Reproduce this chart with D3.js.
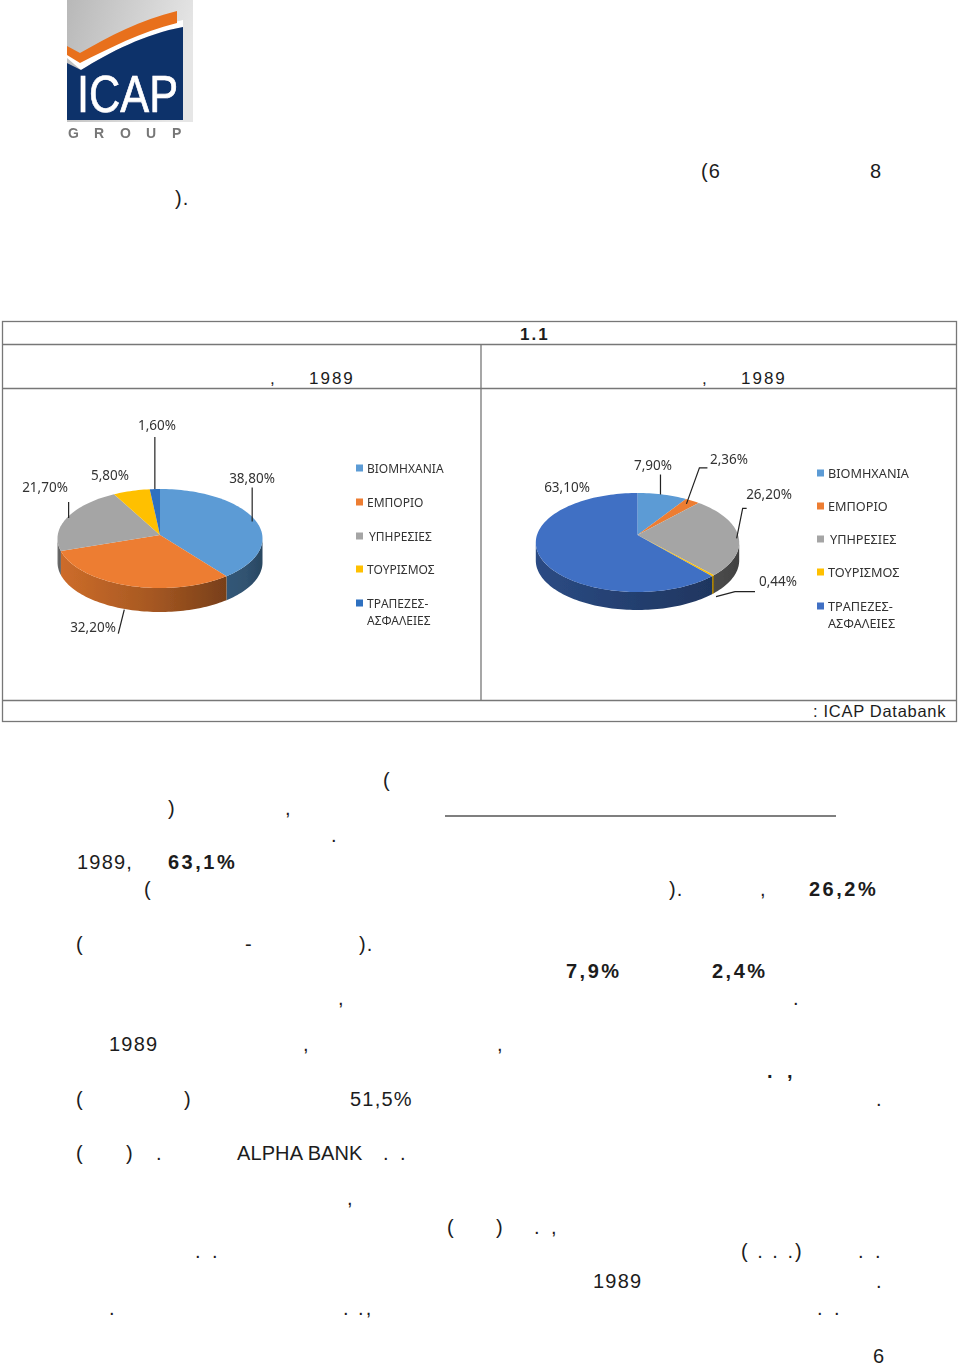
<!DOCTYPE html>
<html>
<head>
<meta charset="utf-8">
<script src="https://cdn.jsdelivr.net/npm/d3@7"></script>
<style>
  html, body { margin: 0; padding: 0; background: #fff; }
  svg { display: block; }
  text { font-family: "Liberation Sans", sans-serif; fill: #1c1c1c; }
  .chart text { font-family: "Noto Sans", sans-serif; fill: #333; }
</style>
</head>
<body>
<div id="page"></div>
<script>
// chart values
var categories = ["ΒΙΟΜΗΧΑΝΙΑ", "ΕΜΠΟΡΙΟ", "ΥΠΗΡΕΣΙΕΣ", "ΤΟΥΡΙΣΜΟΣ", "ΤΡΑΠΕΖΕΣ-ΑΣΦΑΛΕΙΕΣ"];
var leftValues = [38.8, 32.2, 21.7, 5.8, 1.6];
var rightValues = [7.9, 2.36, 26.2, 0.44, 63.1];

var leftColors = ["#5b9bd5", "#ed7d31", "#a5a5a5", "#ffc000", "#2f6fc0"];
var rightColors = ["#5b9bd5", "#ed7d31", "#a5a5a5", "#ffc000", "#3f6fc4"];

// what is left of the page text: [x, baseline, text, bold, letter spacing]
var pageText = [
  [701, 178, "(6"], [870, 178, "8"], [175, 205, ")."],
  [383, 787, "("], [168, 815, ")"], [285, 815, ","], [331, 842, "."],
  [77, 869, "1989,"], [168, 869, "63,1%", true],
  [144, 896, "("], [669, 896, ")."], [760, 896, ","], [809, 896, "26,2%", true],
  [76, 951, "("], [245, 951, "-"], [359, 951, ")."],
  [566, 978, "7,9%", true], [712, 978, "2,4%", true],
  [338, 1005, ","], [793, 1005, "."],
  [109, 1051, "1989"], [303, 1051, ","], [497, 1051, ","],
  [767, 1078, ".", true], [787, 1078, ",", true],
  [76, 1106, "("], [184, 1106, ")"], [350, 1106, "51,5%"], [876, 1106, "."],
  [76, 1160, "("], [126, 1160, ")"], [156, 1160, "."], [237, 1160, "ALPHA BANK", false, 0.1], [383, 1160, ". .", false, 3],
  [347, 1205, ","],
  [447, 1234, "("], [496, 1234, ")"], [534, 1234, ". ,", false, 3],
  [195, 1258, ". .", false, 3], [741, 1258, "( . . .)", false, 2], [858, 1258, ". .", false, 3],
  [593, 1288, "1989"], [876, 1288, "."],
  [109, 1315, "."], [343, 1315, ". .,", false, 2], [817, 1315, ". .", false, 3],
  [873, 1362.5, "6"]
];

var svg = d3.select("#page").append("svg")
  .attr("width", 960)
  .attr("height", 1367);

var defs = svg.append("defs");
defs.append("filter").attr("id", "soft")
  .append("feGaussianBlur").attr("stdDeviation", 0.7);
defs.append("filter").attr("id", "softer")
  .append("feGaussianBlur").attr("stdDeviation", 0.35);

drawLogo();
drawTable();

svg.selectAll(".body")
  .data(pageText)
  .enter()
  .append("text")
    .attr("class", "body")
    .attr("x", d => d[0])
    .attr("y", d => d[1])
    .attr("font-size", 20)
    .attr("letter-spacing", d => d[4] != null ? d[4] : (d[3] ? 2.5 : 1.2))
    .attr("font-weight", d => d[3] ? "bold" : "normal")
    .text(d => d[2]);

svg.append("line")
  .attr("x1", 445).attr("x2", 836).attr("y1", 816).attr("y2", 816)
  .attr("stroke", "#555").attr("stroke-width", 1.4);

drawPie({
  values: leftValues, colors: leftColors, cx: 160, apexY: 535, cy: 538.5, rx: 102.5, ry: 49.5, depth: 24,
  blur: "url(#soft)",
  // side wall shading of each slice: left, middle, right
  sideShade: [[1.6, 1.8, 2.2], [0.4, 1, 1.9], [1, 1.4, 2], [1, 1.4, 2], [1, 1.4, 2]],
  // label centre, then leader elbow points as offsets from the rim
  labels: [
    {x: 252, y: 483, leader: [[-4, 0], [-4, -34]]},
    {x: 93, y: 632, leader: [[-5, 0], [-11, 24]], drop: true},
    {x: 45, y: 492, leader: [[2, 0], [2, -16]]},
    {x: 110, y: 480, leader: null},
    {x: 157, y: 430, leader: [[0, 0], [0, -52]]}
  ],
  legendX: 356, legendY: [468, 502, 536, 569, 603], legendFont: 12, legendGap: 11
});

drawPie({
  values: rightValues, colors: rightColors, cx: 637.5, apexY: 535, cy: 542.5, rx: 101.7, ry: 49.5, depth: 18,
  blur: "url(#softer)",
  sideShade: [[1, 1.4, 2], [1, 1.4, 2], [2.2, 2.4, 2.6], [1, 1.4, 2], [1.1, 1.6, 2]],
  labels: [
    {x: 653, y: 470, leader: [[-2, 0], [-2, -20]]},
    {x: 729, y: 464, leader: [[-6, 3], [7, -33], [15, -33]]},
    {x: 769, y: 499, leader: [[-2, 1], [4, -29], [8, -29]]},
    {x: 778, y: 586, leader: [[3, 3], [22, -2], [42, -2]], drop: true},
    {x: 567, y: 492, leader: null}
  ],
  legendX: 817, legendY: [473, 506, 539, 572, 606], legendFont: 12.7, legendGap: 11
});

function drawLogo() {
  var logo = svg.append("g").attr("filter", "url(#soft)");
  var grey = defs.append("linearGradient").attr("id", "logoGrey")
    .attr("x1", 0).attr("y1", 0).attr("x2", 1).attr("y2", 0.3);
  grey.append("stop").attr("offset", 0).attr("stop-color", "#b8b8b8");
  grey.append("stop").attr("offset", 1).attr("stop-color", "#e6e6e6");

  logo.append("rect").attr("x", 67).attr("y", 0).attr("width", 126).attr("height", 122).attr("fill", "url(#logoGrey)");
  logo.append("path").attr("fill", "#fff")
    .attr("d", "M67 58 L81 70 C110 52 145 34 183 27 L183 20 C145 28 110 46 81 62 L67 50 Z");
  logo.append("path").attr("fill", "#10306a")
    .attr("d", "M67 63 L81 70 C110 52 145 34 183 27 L183 120 L67 120 Z");
  logo.append("path").attr("fill", "#e8701c")
    .attr("d", "M67 46 L80 53 C110 36 140 20 177 11 L177 23 C140 32 110 48 80 63 L67 55 Z");
  logo.append("text").attr("x", 77).attr("y", 112)
    .attr("font-size", 52).attr("textLength", 101).attr("lengthAdjust", "spacingAndGlyphs")
    .attr("stroke", "#fff").attr("stroke-width", 0.7)
    .style("fill", "#fff").text("ICAP");
  logo.selectAll(".grp").data(["G", "R", "O", "U", "P"]).enter().append("text")
    .attr("x", (d, i) => 68 + i * 26)
    .attr("y", 138)
    .attr("font-size", 14)
    .attr("font-weight", "bold")
    .style("fill", "#777")
    .text(d => d);
}

function drawTable() {
  var t = svg.append("g").attr("stroke", "#777").attr("stroke-width", 1.3).attr("fill", "none");
  t.append("rect").attr("x", 2.5).attr("y", 321.5).attr("width", 954).attr("height", 400);
  [344, 388, 700].forEach(function(y) {
    t.append("line").attr("x1", 2.5).attr("x2", 956.5).attr("y1", y + 0.5).attr("y2", y + 0.5);
  });
  t.append("line").attr("x1", 481).attr("x2", 481).attr("y1", 344).attr("y2", 700);

  var heads = [
    [520, 340, "1.1", true, 2], [270, 384, ",", false, 2], [309, 384, "1989", false, 2], [702, 384, ",", false, 2], [741, 384, "1989", false, 2],
    [813, 717, ": ICAP Databank", false, 0.7]
  ];
  svg.selectAll(".head").data(heads).enter().append("text")
    .attr("class", "head")
    .attr("x", d => d[0])
    .attr("y", d => d[1])
    .attr("font-size", d => d[4] < 1 ? 16.5 : 17)
    .attr("letter-spacing", d => d[4])
    .attr("font-weight", d => d[3] ? "bold" : "normal")
    .text(d => d[2]);
}

function drawPie(o) {
  var g = svg.append("g").attr("class", "chart").attr("filter", o.blur);
  var color = d3.scaleOrdinal().domain(categories).range(o.colors);
  var slices = d3.pie().sort(null)(o.values);
  var line = d3.line();
  var id = "side" + Math.round(o.cx);

  function rim(a, dy) {
    return [o.cx + o.rx * Math.sin(a), o.cy - o.ry * Math.cos(a) + (dy || 0)];
  }
  function arcPts(a0, a1, dy) {
    var n = Math.max(2, Math.ceil((a1 - a0) / 0.03));
    return d3.range(n + 1).map(i => rim(a0 + (a1 - a0) * i / n, dy));
  }

  // side walls first, only the part of each slice that faces the viewer
  slices.forEach(function(s, i) {
    var a0 = Math.max(s.startAngle, Math.PI / 2),
        a1 = Math.min(s.endAngle, Math.PI * 3 / 2);
    if (a1 <= a0) return;
    var base = d3.color(o.colors[i]);
    var grad = defs.append("linearGradient").attr("id", id + i);
    grad.append("stop").attr("offset", 0).attr("stop-color", base.darker(o.sideShade[i][0]));
    grad.append("stop").attr("offset", 0.55).attr("stop-color", base.darker(o.sideShade[i][1]));
    grad.append("stop").attr("offset", 1).attr("stop-color", base.darker(o.sideShade[i][2]));
    var pts = arcPts(a0, a1, 0).concat(arcPts(a0, a1, o.depth).reverse());
    g.append("path")
      .attr("d", line(pts) + "Z")
      .attr("fill", "url(#" + id + i + ")");
  });

  // top surface
  slices.forEach(function(s, i) {
    var pts = [[o.cx, o.apexY]].concat(arcPts(s.startAngle, s.endAngle, 0));
    g.append("path")
      .attr("d", line(pts) + "Z")
      .attr("fill", color(categories[i]));
  });

  // value labels and their leaders
  slices.forEach(function(s, i) {
    var lab = o.labels[i];
    var mid = (s.startAngle + s.endAngle) / 2;
    var start = rim(mid, lab.drop ? o.depth : 0);
    if (lab.leader) {
      g.append("path")
        .attr("d", line(lab.leader.map(p => [start[0] + p[0], start[1] + p[1]])))
        .attr("fill", "none")
        .attr("stroke", "#222")
        .attr("stroke-width", 1.2);
    }
    g.append("text")
      .attr("x", lab.x)
      .attr("y", lab.y)
      .attr("text-anchor", "middle")
      .attr("font-size", 13.5)
      .text(d3.format(".2f")(o.values[i]).replace(".", ",") + "%");
  });

  // legend
  categories.forEach(function(c, i) {
    var y = o.legendY[i];
    g.append("rect")
      .attr("x", o.legendX).attr("y", y - 3.5)
      .attr("width", 7).attr("height", 7)
      .attr("fill", color(c));
    var parts = c.indexOf("-") > 0 ? [c.split("-")[0] + "-", c.split("-")[1]] : [c];
    parts.forEach(function(p, j) {
      g.append("text")
        .attr("x", o.legendX + o.legendGap + (i == 2 ? 2 : 0))
        .attr("y", y + 4.5 + j * 17)
        .attr("font-size", o.legendFont)
        .text(p);
    });
  });
}
</script>
</body>
</html>
